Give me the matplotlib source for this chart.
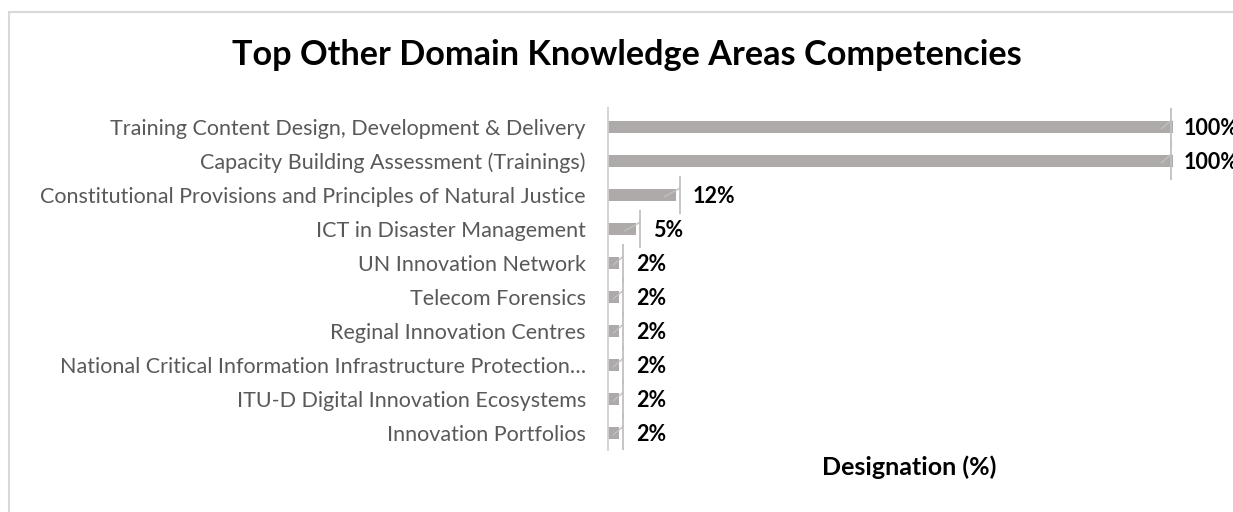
import matplotlib.pyplot as plt
from matplotlib.patches import Rectangle

plt.rcParams['font.family'] = ['Lato', 'DejaVu Sans']

categories = ['Training Content Design, Development & Delivery',
              'Capacity Building Assessment (Trainings)',
              'Constitutional Provisions and Principles of Natural Justice',
              'ICT in Disaster Management',
              'UN Innovation Network',
              'Telecom Forensics',
              'Reginal Innovation Centres',
              'National Critical Information Infrastructure Protection\u2026',
              'ITU-D Digital Innovation Ecosystems',
              'Innovation Portfolios']
values = [100, 100, 12, 5, 2, 2, 2, 2, 2, 2]
labels = ['100%', '100%', '12%', '5%', '2%', '2%', '2%', '2%', '2%', '2%']

fig = plt.figure(figsize=(12.33, 5.12), dpi=100)
fig.patches.append(Rectangle((9 / 1233, -0.1), 1.2, 1 - 12 / 512 + 0.1,
                             transform=fig.transFigure, fill=False,
                             edgecolor='#d9d9d9', linewidth=1.5))

ax = fig.add_axes([608 / 1233, 1 - 450 / 512, (1222 - 608) / 1233, (450 - 108) / 512])
pos = list(range(len(categories)))
ax.barh(pos, values, height=0.36, color='#aeaaaa')
ax.set_xlim(0, 108.7)
ax.set_ylim(9.5, -0.56)

# leader lines + data labels (excel style callouts)
lead = '#c0c0c0'
for i, v in enumerate(values):
    lx = v + 0.7 if v < 50 else v - 0.3
    ax.plot([lx, lx], [i - 0.55, i + 0.55], color=lead, lw=1.3, solid_capstyle='butt')
    ax.plot([max(v * 0.5, v - 2), lx], [i + 0.05, i - 0.2], color=lead, lw=1.0)
    ax.text(lx + 2.2, i + 0.05, labels[i], va='center', ha='left',
            fontsize=15.5, fontweight='bold', color='black')

ax.set_yticks(pos)
ax.set_yticklabels(categories, fontsize=15.5, color='#595959')
ax.tick_params(axis='y', length=0, pad=16)
ax.set_xticks([])
for s in ['top', 'right', 'bottom']:
    ax.spines[s].set_visible(False)
ax.spines['left'].set_color('#d0d0d0')
ax.spines['left'].set_linewidth(1.3)

ax.text(0.49, -0.015, 'Designation (%)', transform=ax.transAxes, ha='center', va='top',
        fontsize=18, fontweight='bold', color='black')

fig.text(627 / 1233, 1 - 55 / 512, 'Top Other Domain Knowledge Areas Competencies', ha='center', va='center',
         fontsize=24.7, fontweight='bold', color='black')

fig.savefig('out.png', dpi=100)
